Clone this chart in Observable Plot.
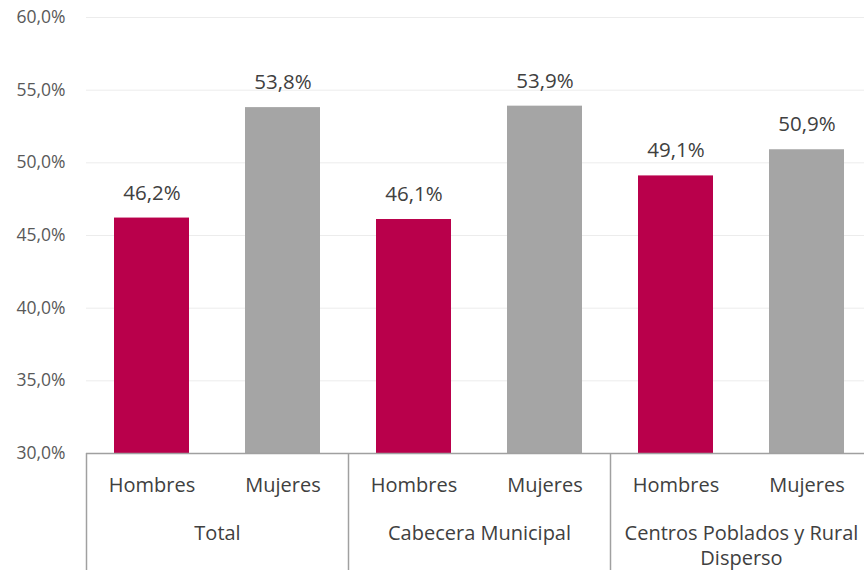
<!DOCTYPE html>
<html>
<head>
<meta charset="utf-8">
<script src="https://cdn.jsdelivr.net/npm/d3@7"></script>
<script src="https://cdn.jsdelivr.net/npm/@observablehq/plot@0.6"></script>
<style>
  html, body { margin: 0; padding: 0; background: #fff; }
  #chart { width: 864px; height: 570px; overflow: hidden; }
</style>
</head>
<body>
<div id="chart"></div>
<script>
const groups = ["Total", "Cabecera Municipal", "Centros Poblados y Rural Disperso"];
const groupLabels = ["Total", "Cabecera Municipal", "Centros Poblados y Rural\nDisperso"];
const sexes = ["Hombres", "Mujeres"];
const hombres = [46.2, 46.1, 49.1];
const mujeres = [53.8, 53.9, 50.9];
const hombresLabels = ["46,2%", "46,1%", "49,1%"];
const mujeresLabels = ["53,8%", "53,9%", "50,9%"];
const yTicks = [30, 35, 40, 45, 50, 55, 60];
const colors = {Hombres: "#B9004B", Mujeres: "#A5A5A5"};

const data = [];
groups.forEach((g, gi) => {
  data.push({group: g, gi, sex: sexes[0], slot: gi * 2, value: hombres[gi], label: hombresLabels[gi]});
  data.push({group: g, gi, sex: sexes[1], slot: gi * 2 + 1, value: mujeres[gi], label: mujeresLabels[gi]});
});
const groupData = groups.map((g, gi) => ({group: g, gi, label: groupLabels[gi]}));
const separators = d3.range(groups.length + 1).map(i => i * 2);

const font = "'Open Sans', 'Noto Sans', sans-serif";

const chart = Plot.plot({
  width: 864,
  height: 570,
  marginLeft: 86,
  marginRight: -8,
  marginTop: 17,
  marginBottom: 117,
  style: {fontFamily: font, background: "#fff", overflow: "hidden"},
  x: {type: "linear", domain: [0, groups.length * 2], axis: null},
  y: {domain: [30, 60], axis: null, label: null},
  marks: [
    Plot.gridY(yTicks.filter(t => t > 30), {stroke: "#ececec", strokeOpacity: 1}),
    Plot.axisY({
      ticks: yTicks,
      label: null,
      tickSize: 0,
      tickPadding: 21,
      fontSize: 17.5,
      fill: "#595959",
      tickFormat: d => d.toFixed(1).replace(".", ",") + "%"
    }),
    Plot.rectY(data, {
      x1: d => d.slot,
      x2: d => d.slot + 1,
      y1: 30,
      y2: "value",
      fill: d => colors[d.sex],
      insetLeft: 28,
      insetRight: 28
    }),
    Plot.text(data, {
      x: d => d.slot + 0.5,
      y: "value",
      text: "label",
      dy: -25,
      fontSize: 20.5,
      fill: "#404040"
    }),
    Plot.ruleY([30], {stroke: "#a0a0a0", strokeWidth: 1.5}),
    Plot.text(data, {
      x: d => d.slot + 0.5,
      text: "sex",
      frameAnchor: "bottom",
      dy: 38,
      fontSize: 20,
      fill: "#404040"
    }),
    Plot.text(groupData, {
      x: d => d.gi * 2 + 1,
      text: "label",
      frameAnchor: "bottom",
      lineAnchor: "top",
      dy: 68,
      lineHeight: 1.27,
      fontSize: 20,
      fill: "#404040"
    }),
    (index, scales, values, dimensions) => {
      const g = d3.create("svg:g");
      const top = dimensions.height - dimensions.marginBottom;
      for (const s of separators) {
        const x = Math.round(scales.x(s)) + 0.5;
        g.append("line")
          .attr("x1", x).attr("x2", x)
          .attr("y1", top).attr("y2", dimensions.height)
          .attr("stroke", "#a0a0a0")
          .attr("stroke-width", 1.5);
      }
      return g.node();
    }
  ]
});

document.getElementById("chart").appendChild(chart);
</script>
</body>
</html>
